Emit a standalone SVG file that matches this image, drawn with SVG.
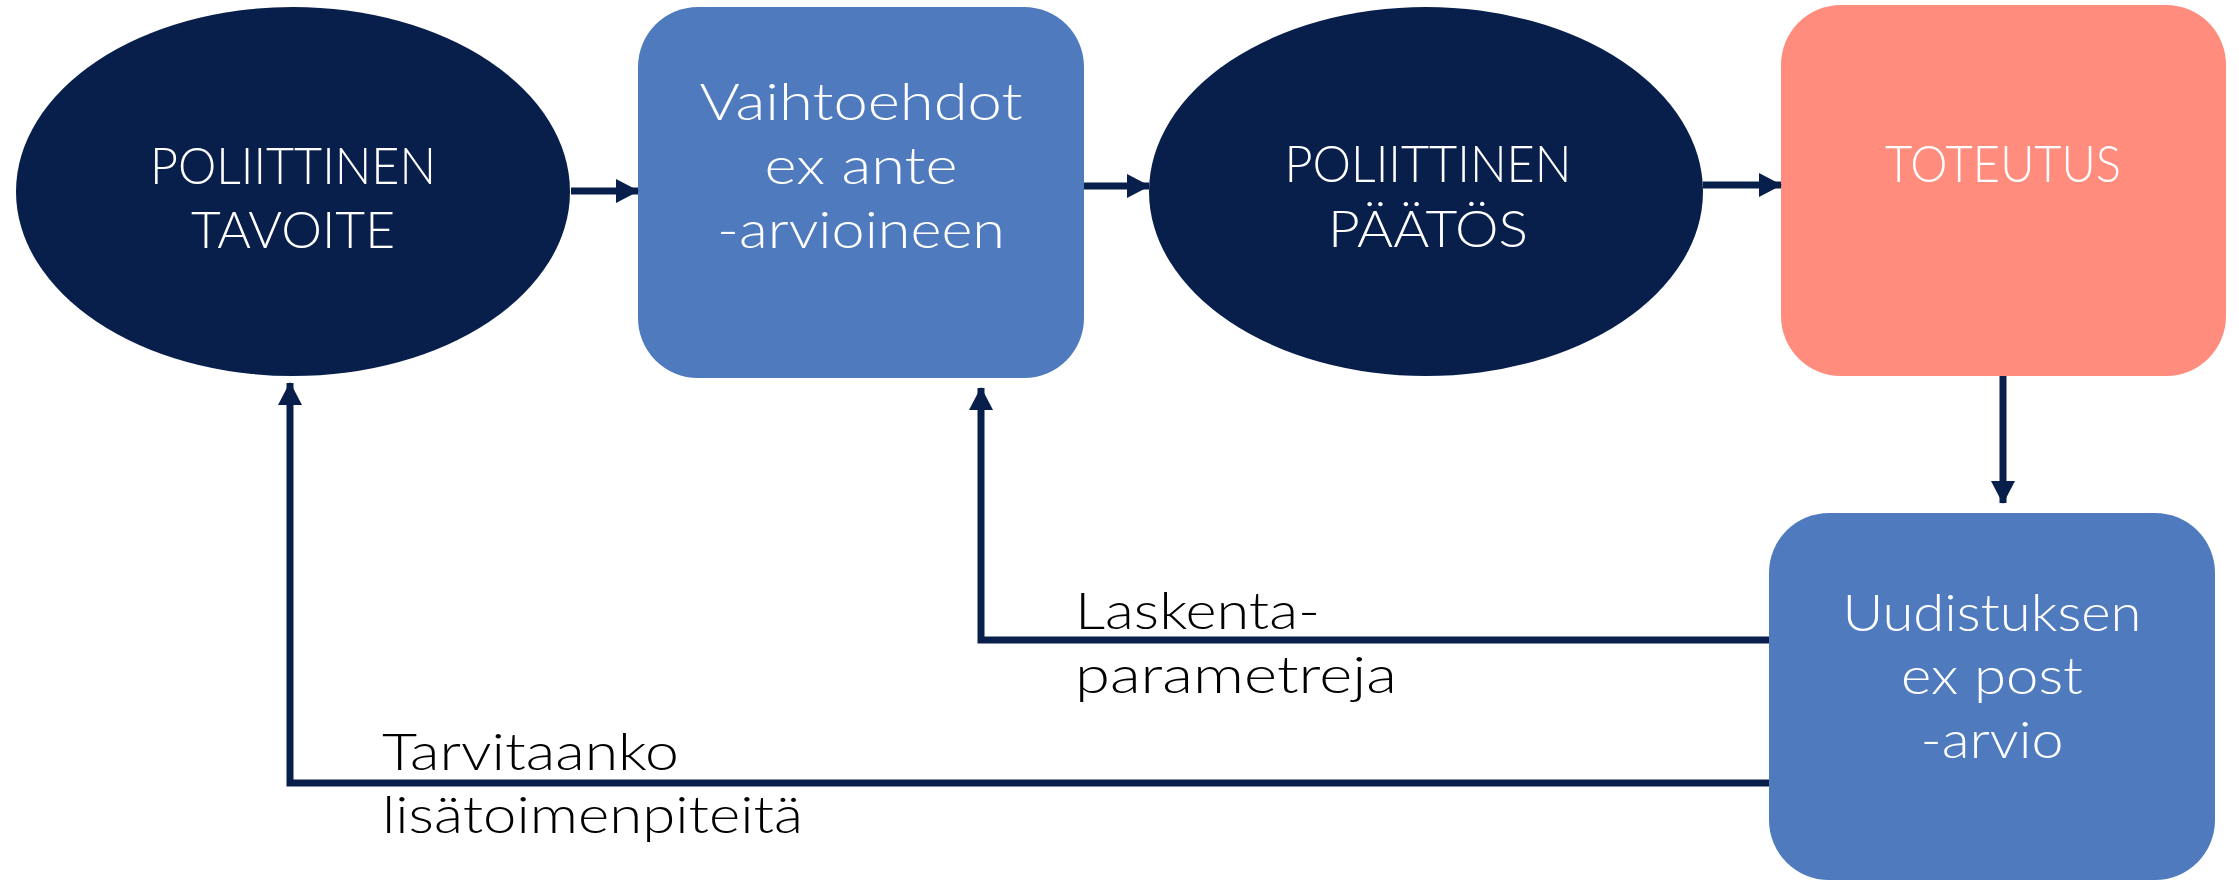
<svg xmlns="http://www.w3.org/2000/svg" width="2239" height="882" viewBox="0 0 2239 882">
<style>
.dark{fill:#091F4B}
.blue{fill:#4F7BBE}
.salmon{fill:#FF8C7C}
.wt{fill:#FFFFFF;font-family:Lato,"Liberation Sans",sans-serif;font-size:52px;font-weight:300;text-anchor:middle}
.bt{fill:#000000;font-family:Lato,"Liberation Sans",sans-serif;font-size:52px;font-weight:300}
.conn{stroke:#091F4B;stroke-width:7;fill:none}
</style>
<defs>
<marker id="ah" markerUnits="userSpaceOnUse" markerWidth="24" markerHeight="24" refX="22" refY="12" orient="auto">
<path d="M0,0 L23,12 L0,24 Z" fill="#091F4B"/>
</marker>
</defs>
<rect width="2239" height="882" fill="#FFFFFF"/>
<g id="n1">
<ellipse class="dark" cx="293" cy="191.5" rx="277" ry="184.5"/>
<text class="wt" x="293" y="184" textLength="286" lengthAdjust="spacingAndGlyphs">POLIITTINEN</text>
<text class="wt" x="293" y="248" textLength="204" lengthAdjust="spacingAndGlyphs">TAVOITE</text>
</g>
<g id="n2">
<rect class="blue" x="638" y="7" width="446" height="371" rx="60" ry="60"/>
<text class="wt" x="861" y="120" textLength="323" lengthAdjust="spacingAndGlyphs">Vaihtoehdot</text>
<text class="wt" x="861" y="184" textLength="193" lengthAdjust="spacingAndGlyphs">ex ante</text>
<text class="wt" x="861" y="248" textLength="288" lengthAdjust="spacingAndGlyphs">-arvioineen</text>
</g>
<g id="n3">
<ellipse class="dark" cx="1426" cy="191.5" rx="277" ry="184.5"/>
<text class="wt" x="1428" y="182" textLength="287" lengthAdjust="spacingAndGlyphs">POLIITTINEN</text>
<text class="wt" x="1428" y="247" textLength="200" lengthAdjust="spacingAndGlyphs">PÄÄTÖS</text>
</g>
<g id="n4">
<rect class="salmon" x="1781" y="5" width="445" height="371" rx="60" ry="60"/>
<text class="wt" x="2003" y="182" textLength="236" lengthAdjust="spacingAndGlyphs">TOTEUTUS</text>
</g>
<g id="n5">
<rect class="blue" x="1769" y="513" width="446" height="367" rx="60" ry="60"/>
<text class="wt" x="1992" y="631" textLength="299" lengthAdjust="spacingAndGlyphs">Uudistuksen</text>
<text class="wt" x="1992" y="694" textLength="182" lengthAdjust="spacingAndGlyphs">ex post</text>
<text class="wt" x="1992" y="758" textLength="143" lengthAdjust="spacingAndGlyphs">-arvio</text>
</g>
<g id="connectors">
<line class="conn" x1="571" y1="191" x2="638" y2="191" marker-end="url(#ah)"/>
<line class="conn" x1="1084" y1="186" x2="1149" y2="186" marker-end="url(#ah)"/>
<line class="conn" x1="1703" y1="185" x2="1781" y2="185" marker-end="url(#ah)"/>
<line class="conn" x1="2003" y1="376" x2="2003" y2="503" marker-end="url(#ah)"/>
<polyline class="conn" points="1769,640 981,640 981,388" marker-end="url(#ah)"/>
<polyline class="conn" points="1769,783 290,783 290,383" marker-end="url(#ah)"/>
</g>
<g id="labels">
<text class="bt" x="1075" y="629" textLength="245" lengthAdjust="spacingAndGlyphs">Laskenta-</text>
<text class="bt" x="1075" y="693" textLength="322" lengthAdjust="spacingAndGlyphs">parametreja</text>
<text class="bt" x="382" y="770" textLength="297" lengthAdjust="spacingAndGlyphs">Tarvitaanko</text>
<text class="bt" x="382" y="833" textLength="421" lengthAdjust="spacingAndGlyphs">lisätoimenpiteitä</text>
</g>
</svg>
